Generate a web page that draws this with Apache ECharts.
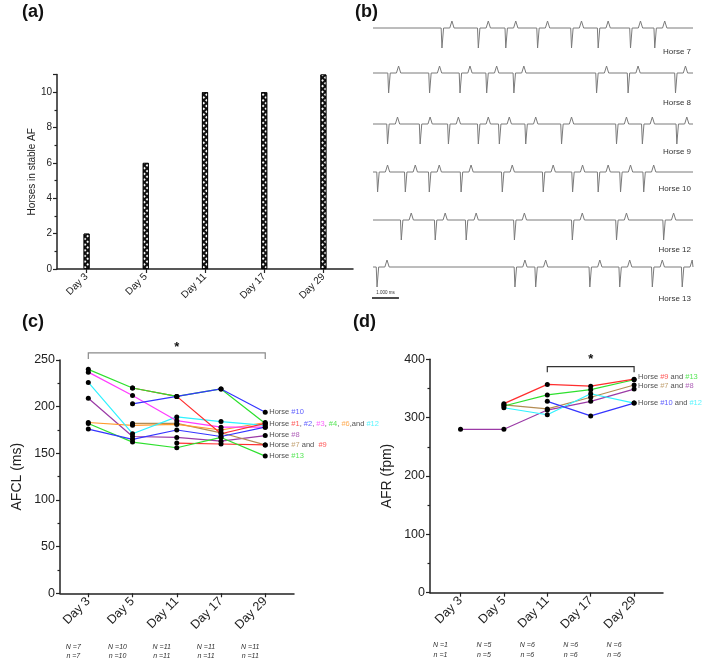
<!DOCTYPE html>
<html><head><meta charset="utf-8">
<script src="https://cdn.jsdelivr.net/npm/echarts@6/dist/echarts.min.js"></script>
<style>html,body{margin:0;padding:0;background:#fff}#c{width:709px;height:661px}</style>
</head><body><div id="c"></div>
<script>
// ---------- DATA ----------
const days = ['Day 3', 'Day 5', 'Day 11', 'Day 17', 'Day 29'];
const stableAF = [2, 6, 10, 10, 11];

// (b) ECG: QRS times (s)
const ecgNames = ['Horse 7', 'Horse 8', 'Horse 9', 'Horse 10', 'Horse 12', 'Horse 13'];
const qrs7 = [2.56, 3.91, 4.93, 6.11, 7.37, 8.36, 9.56, 10.46];
const qrs8 = [0.58, 2.10, 3.23, 4.22, 5.23, 8.30, 9.47, 11.23];
const qrs9 = [0.54, 1.75, 2.80, 3.91, 4.69, 5.67, 7.00, 9.04, 10.00, 11.28];
const qrs10 = [0.17, 1.20, 2.09, 3.27, 4.80, 6.32, 7.41, 8.36, 9.19, 10.05];
const qrs12 = [1.05, 2.31, 3.46, 5.25, 7.40, 9.04, 10.79];
const qrs13 = [0.15, 5.27, 6.04, 8.05, 9.16, 10.37, 11.48];
const ecgDuration = 11.88;

// (c) AFCL (ms) per horse, Day 3..Day 29
const afcl_h1 = [null, 220, 211, 171, 182];
const afcl_h2 = [176, 165, 175, 168, 178];
const afcl_h3 = [237, 212, 185, 178, 178];
const afcl_h4 = [240, 220, 211, 219, 182];
const afcl_h6 = [183, 180, 181, 175, 183];
const afcl_h7 = [null, 182, 182, 172, 159];
const afcl_h8 = [209, 168, 167, 163, 169];
const afcl_h9 = [null, null, 161, 160, 159];
const afcl_h10 = [null, 203, 211, 219, 194];
const afcl_h12 = [226, 171, 189, 184, 180];
const afcl_h13 = [182, 162, 156, 167, 147];
const afclN = [7, 10, 11, 11, 11];
const afcln = [7, 10, 11, 11, 11];
const afclLabelVals = [194, 181.6, 169.2, 158.8, 147.2];
const afclLabelTexts = ['Horse {b|#10}', 'Horse {r|#1}, {b|#2}, {m|#3}, {g|#4}, {o|#6},and {c|#12}', 'Horse {p|#8}', 'Horse {n|#7} and  {r|#9}', 'Horse {g|#13}'];

// (d) AFR (fpm)
const afr_h7 = [null, 322, 315, 335, 356];
const afr_h8 = [280, 280, 313, 328, 349];
const afr_h9 = [null, 324, 357, 354, 366];
const afr_h10 = [null, null, 328, 303, 325];
const afr_h12 = [null, 317, 305, 341, 325];
const afr_h13 = [null, 320, 339, 348, 365];
const afrN = [1, 5, 6, 6, 6];
const afrn = [1, 5, 6, 6, 6];
const afrLabelVals = [369.6, 354.5, 326];
const afrLabelTexts = ['Horse {r|#9} and {g|#13}', 'Horse {n|#7} and {p|#8}', 'Horse {b|#10} and {c|#12}'];

// ---------- STYLE ----------
const COL = { red: '#ff2e2e', blue: '#3535ff', mag: '#ff3cff', green: '#2ee02e', orange: '#ff9a2e', cyan: '#2ef2ff', purple: '#9b3aa6', brown: '#b48c52' };
const FONT = '"Liberation Sans", Arial, sans-serif';
const rich = {
  r: { color: COL.red, fontSize: 7.5, fontFamily: FONT }, b: { color: COL.blue, fontSize: 7.5, fontFamily: FONT },
  m: { color: COL.mag, fontSize: 7.5, fontFamily: FONT }, g: { color: COL.green, fontSize: 7.5, fontFamily: FONT },
  o: { color: COL.orange, fontSize: 7.5, fontFamily: FONT }, c: { color: COL.cyan, fontSize: 7.5, fontFamily: FONT },
  p: { color: COL.purple, fontSize: 7.5, fontFamily: FONT }, n: { color: COL.brown, fontSize: 7.5, fontFamily: FONT }
};

const axisLineS = { show: true, lineStyle: { color: '#222', width: 1.5 } };
const tickS = { show: true, length: 4, lineStyle: { color: '#222', width: 1.2 } };
const minorS = { show: true, splitNumber: 2, length: 2.5, lineStyle: { color: '#222', width: 1.2 } };

const ecgBase = [28, 73, 124, 172, 220, 267];
const ecgAll = [qrs7, qrs8, qrs9, qrs10, qrs12, qrs13];

function ecgTrace(q) {
  const pts = [[0, 0]];
  q.forEach(t => {
    pts.push([t - 0.03, 0], [t, -20], [t + 0.06, 0], [t + 0.29, 0], [t + 0.37, 7], [t + 0.45, 0]);
  });
  pts.push([ecgDuration, 0]);
  return pts.filter(p => p[0] >= 0 && p[0] <= ecgDuration);
}
const toXY = arr => arr.map((v, i) => v == null ? null : [i + 1, v]).filter(Boolean);

const grids = [{ left: 57, right: 356, top: 74.5, bottom: 392 }];
const xAxes = [{
  gridIndex: 0, type: 'category', data: days, axisLine: axisLineS,
  axisTick: Object.assign({}, tickS, { alignWithLabel: true }),
  axisLabel: { rotate: 45, fontSize: 10, color: '#222', fontFamily: FONT, margin: 6 }
}];
const yAxes = [{
  gridIndex: 0, type: 'value', min: 0, max: 11, interval: 2, axisLine: axisLineS, axisTick: tickS, minorTick: minorS,
  splitLine: { show: false }, axisLabel: { fontSize: 10, color: '#222', fontFamily: FONT, margin: 5, showMaxLabel: false },
  name: 'Horses in stable AF', nameLocation: 'middle', nameGap: 18, nameTextStyle: { fontSize: 10, color: '#222', fontFamily: FONT }
}];
const series = [{
  type: 'bar', xAxisIndex: 0, yAxisIndex: 0, data: stableAF, barWidth: 6,
  itemStyle: { color: '#111', borderColor: '#000', borderWidth: 0.8,
    decal: { symbol: 'rect', symbolSize: 1, color: '#fff', dashArrayX: [1.5, 1.5], dashArrayY: [1.5, 1.5], rotation: 0.785 } }
}];

ecgAll.forEach((q, k) => {
  const gi = k + 1;
  grids.push({ left: 373, width: 320, top: ecgBase[k] - 10, height: 32 });
  xAxes.push({ gridIndex: gi, type: 'value', min: 0, max: ecgDuration, show: false });
  yAxes.push({ gridIndex: gi, type: 'value', min: -22, max: 10, show: false });
  series.push({ type: 'line', xAxisIndex: gi, yAxisIndex: gi, data: ecgTrace(q), showSymbol: false,
    lineStyle: { color: '#7a7a7a', width: 1 } });
});

// (c)
grids.push({ left: 60, right: 415, top: 360, bottom: 67.7 });
xAxes.push({ gridIndex: 7, type: 'value', min: 0.36, max: 5.65, axisLine: axisLineS,
  axisTick: Object.assign({}, tickS, { customValues: [1, 2, 3, 4, 5] }), splitLine: { show: false },
  axisLabel: { customValues: [1, 2, 3, 4, 5], formatter: v => days[Math.round(v) - 1], rotate: 45, fontSize: 12.5, color: '#222', fontFamily: FONT, margin: 6 } });
yAxes.push({ gridIndex: 7, type: 'value', min: 0, max: 250, interval: 50, axisLine: axisLineS, axisTick: tickS, minorTick: minorS,
  splitLine: { show: false }, axisLabel: { fontSize: 12.5, color: '#222', fontFamily: FONT, margin: 5 },
  name: 'AFCL (ms)', nameLocation: 'middle', nameGap: 36, nameTextStyle: { fontSize: 14, color: '#222', fontFamily: FONT } });

// (d)
grids.push({ left: 430, right: 46, top: 359.3, bottom: 68.3 });
xAxes.push({ gridIndex: 8, type: 'value', min: 0.297, max: 5.666, axisLine: axisLineS,
  axisTick: Object.assign({}, tickS, { customValues: [1, 2, 3, 4, 5] }), splitLine: { show: false },
  axisLabel: { customValues: [1, 2, 3, 4, 5], formatter: v => days[Math.round(v) - 1], rotate: 45, fontSize: 12.5, color: '#222', fontFamily: FONT, margin: 6 } });
yAxes.push({ gridIndex: 8, type: 'value', min: 0, max: 400, interval: 100, axisLine: axisLineS, axisTick: tickS, minorTick: minorS,
  splitLine: { show: false }, axisLabel: { fontSize: 12.5, color: '#222', fontFamily: FONT, margin: 5 },
  name: 'AFR (fpm)', nameLocation: 'middle', nameGap: 36, nameTextStyle: { fontSize: 14, color: '#222', fontFamily: FONT } });

function lineSeries(gi, arr, color) {
  return { type: 'line', xAxisIndex: gi, yAxisIndex: gi, data: toXY(arr), symbol: 'circle', symbolSize: 5,
    itemStyle: { color: '#000' }, lineStyle: { color: color, width: 1.2 }, z: 3 };
}
[[afcl_h8, COL.purple], [afcl_h7, COL.brown], [afcl_h6, COL.orange], [afcl_h12, COL.cyan], [afcl_h3, COL.mag],
 [afcl_h9, COL.red], [afcl_h1, COL.red], [afcl_h4, COL.green], [afcl_h13, COL.green], [afcl_h2, COL.blue], [afcl_h10, COL.blue]]
  .forEach(([a, c]) => series.push(lineSeries(7, a, c)));
[[afr_h8, COL.purple], [afr_h7, COL.brown], [afr_h12, COL.cyan], [afr_h10, COL.blue], [afr_h13, COL.green], [afr_h9, COL.red]]
  .forEach(([a, c]) => series.push(lineSeries(8, a, c)));

function labelSeries(gi, vals, texts) {
  return { type: 'scatter', xAxisIndex: gi, yAxisIndex: gi, symbolSize: 0, silent: true, z: 5,
    data: vals.map((v, i) => ({ value: [5, v], label: { formatter: texts[i] } })),
    label: { show: true, position: 'right', distance: 4, fontSize: 7.5, color: '#222', fontFamily: FONT, rich: rich } };
}
series.push(labelSeries(7, afclLabelVals, afclLabelTexts));
series.push(labelSeries(8, afrLabelVals, afrLabelTexts));

const chart = echarts.init(document.getElementById('c'), null, { renderer: 'canvas' });
chart.setOption({ animation: false, grid: grids, xAxis: xAxes, yAxis: yAxes, series: series });

// ---------- annotations ----------
const px = (g, pt) => chart.convertToPixel({ gridIndex: g }, pt);
const g = [];
const title = (t, x, y) => g.push({ type: 'text', left: x, top: y, style: { text: t, font: 'bold 18px ' + FONT, fill: '#111' } });
title('(a)', 22, 3); title('(b)', 355, 3); title('(c)', 22, 313); title('(d)', 353, 313);

const ecgLabelY = [52, 103, 152, 189, 250, 299];
ecgNames.forEach((n, k) => g.push({ type: 'text', x: 691, y: ecgLabelY[k],
  style: { text: n, font: '8px ' + FONT, fill: '#333', align: 'right', verticalAlign: 'middle' } }));
const s0 = px(6, [0, 0])[0], s1 = px(6, [1, 0])[0];
g.push({ type: 'line', shape: { x1: s0 - 1, y1: 298, x2: s1 - 1, y2: 298 }, style: { stroke: '#111', lineWidth: 1.5 } });
g.push({ type: 'text', x: (s0 + s1) / 2 - 1, y: 293, style: { text: '1.000 ms', font: '4.5px ' + FONT, fill: '#333', align: 'center', verticalAlign: 'middle' } });

function counts(gi, N, n, dx, y1, y2) {
  N.forEach((v, i) => {
    const x = px(gi, [i + 1, 0])[0] + dx;
    g.push({ type: 'text', x: x, y: y1, style: { text: 'N =' + v, font: 'italic 7px ' + FONT, fill: '#333', align: 'center', verticalAlign: 'middle' } });
    g.push({ type: 'text', x: x, y: y2, style: { text: 'n =' + n[i], font: 'italic 7px ' + FONT, fill: '#333', align: 'center', verticalAlign: 'middle' } });
  });
}
counts(7, afclN, afcln, -15, 647, 656);
counts(8, afrN, afrn, -20, 645, 655);

function bracket(gi, a, b, yLine, yTick, yStar, color) {
  const x1 = px(gi, [a, 0])[0], x2 = px(gi, [b, 0])[0];
  const yl = px(gi, [a, yLine])[1], yt = px(gi, [a, yTick])[1], ys = px(gi, [a, yStar])[1];
  g.push({ type: 'polyline', shape: { points: [[x1, yt], [x1, yl], [x2, yl], [x2, yt]] }, style: { stroke: color, lineWidth: 1.2, fill: null } });
  g.push({ type: 'text', x: (x1 + x2) / 2, y: ys, style: { text: '*', font: 'bold 13px ' + FONT, fill: '#111', align: 'center', verticalAlign: 'middle' } });
}
bracket(7, 1, 5, 257.6, 251, 264, '#8a8a8a');
bracket(8, 3, 5, 387.5, 377.8, 399, '#333');

chart.setOption({ graphic: g });
</script></body></html>
